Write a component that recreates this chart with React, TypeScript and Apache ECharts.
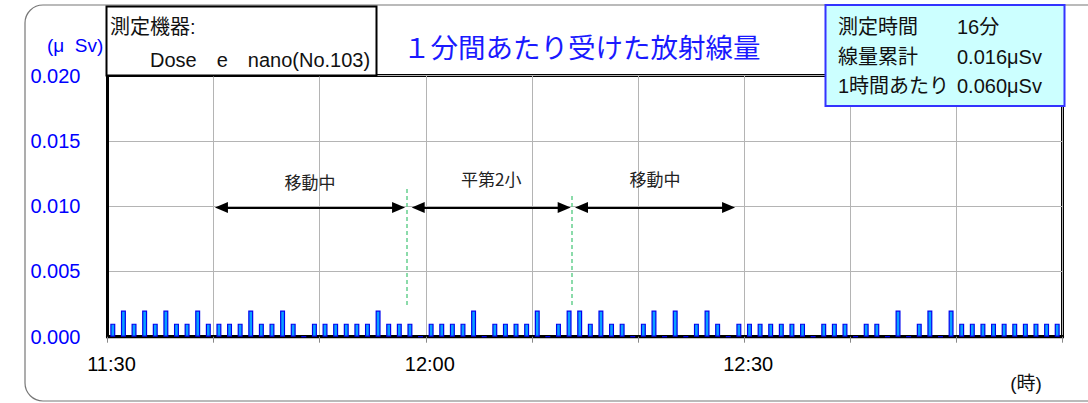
import React, { useEffect, useRef } from "react";
import * as echarts from "echarts";

// Dose per minute (µSv), 11:30 → 13:00, one value per minute
const minuteValues: number[] = [
  0.001, 0.002, 0.001, 0.002, 0.001, 0.002, 0.001, 0.001, 0.002, 0.001,
  0.001, 0.001, 0.001, 0.002, 0.001, 0.001, 0.002, 0.001, 0, 0.001,
  0.001, 0.001, 0.001, 0.001, 0.001, 0.002, 0.001, 0.001, 0.001, 0,
  0.001, 0.001, 0.001, 0.001, 0.002, 0, 0.001, 0.001, 0.001, 0.001,
  0.002, 0, 0.001, 0.002, 0.002, 0.001, 0.002, 0.001, 0.001, 0,
  0.001, 0.002, 0, 0.002, 0, 0.001, 0.002, 0.001, 0, 0.001,
  0.001, 0.001, 0.001, 0.001, 0.001, 0.001, 0, 0.001, 0.001, 0.001,
  0, 0.001, 0.001, 0, 0.002, 0, 0.001, 0.002, 0, 0.002,
  0.001, 0.001, 0.001, 0.001, 0.001, 0.001, 0.001, 0.001, 0.001, 0.001,
];

const tickMinutes = [0, 30, 60];
const tickLabels = ["11:30", "12:00", "12:30"];

// annotation arrows (minutes from 11:30, dose level)
const segLabels = ["移動中", "平第2小", "移動中"];
const segFrom = [10.74, 29.28, 44.67];
const segTo = [27.43, 43.04, 58.53];
const segLevel = 0.0099;
const segLabelDist = [17, 20, 20];

// dashed boundary markers
const boundX = [28.2, 43.75];
const boundTop = [0.01142, 0.01096];
const boundBottom = 0.00242;

const deviceLines = ["測定機器:", "Dose　e　nano(No.103)"];
const summaryLabels = ["測定時間", "線量累計", "1時間あたり"];
const summaryValues = ["16分", "0.016μSv", "0.060μSv"];
const chartTitle = "１分間あたり受けた放射線量";

const FONT = "'Liberation Sans', Arial, 'Noto Sans CJK JP', sans-serif";
const JP = "'Noto Sans CJK JP', sans-serif";

export default function App() {
  const ref = useRef<HTMLDivElement>(null);
  useEffect(() => {
    document.body.style.margin = "0";
    if (!ref.current) return;
    const chart = echarts.init(ref.current, undefined, { renderer: "svg" });

    const barData = minuteValues.map((v, i) => [i + 0.5, v]);

    const arrowData = segLabels.map((lab, i) => [
      {
        coord: [segFrom[i], segLevel],
        name: lab,
        label: { distance: segLabelDist[i] },
      },
      { coord: [segTo[i], segLevel] },
    ]);

    const boundData = boundX.map((x, i) => [
      { coord: [x, boundBottom] },
      { coord: [x, boundTop[i]] },
    ]);

    const summaryGraphics: any[] = [];
    summaryLabels.forEach((s, i) => {
      const y = 27 + i * 29.5;
      summaryGraphics.push({
        type: "text",
        x: 838,
        y,
        z: 101,
        style: { text: s, font: `20px ${FONT}`, fill: "#111", textVerticalAlign: "middle" },
      });
      summaryGraphics.push({
        type: "text",
        x: 957,
        y,
        z: 101,
        style: { text: summaryValues[i], font: `20px ${FONT}`, fill: "#111", textVerticalAlign: "middle" },
      });
    });

    chart.setOption({
      animation: false,
      textStyle: { fontFamily: FONT },
      title: {
        text: chartTitle,
        left: 398,
        top: 27,
        textStyle: { fontFamily: JP, fontSize: 27.5, fontWeight: "normal", color: "#1a1aff" },
      },
      grid: {
        left: 107.5,
        right: 25.5,
        top: 75.5,
        bottom: 66.3,
        show: true,
        borderColor: "#000",
        borderWidth: 3,
        backgroundColor: "transparent",
      },
      xAxis: {
        type: "value",
        min: 0,
        max: 90,
        interval: 10,
        axisLine: { show: true, lineStyle: { color: "#000", width: 3 } },
        axisTick: { show: true, length: 6, lineStyle: { color: "#888", width: 1 } },
        axisLabel: {
          margin: 17,
          fontSize: 20,
          color: "#000",
          padding: [0, 0, 0, 8],
          formatter: (v: number) => {
            const k = tickMinutes.indexOf(Math.round(v));
            return k >= 0 ? tickLabels[k] : "";
          },
        },
        splitLine: { show: true, lineStyle: { color: "#b4b4b4", width: 1 } },
      },
      yAxis: {
        type: "value",
        min: 0,
        max: 0.02,
        interval: 0.005,
        axisLine: { show: true, lineStyle: { color: "#000", width: 3 } },
        axisTick: { show: false },
        axisLabel: {
          margin: 27,
          fontSize: 20,
          color: "#0000ff",
          formatter: (v: number) => v.toFixed(3),
        },
        splitLine: { show: true, lineStyle: { color: "#b4b4b4", width: 1 } },
      },
      series: [
        {
          type: "bar",
          data: barData,
          barWidth: 5,
          itemStyle: { color: "#0aa0ff", borderColor: "#0000f0", borderWidth: 1.2 },
          markLine: {
            silent: true,
            animation: false,
            symbol: ["triangle", "triangle"],
            symbolSize: [11, 13],
            lineStyle: { color: "#000", width: 2, type: "solid" },
            label: {
              show: true,
              position: "middle",
              formatter: "{b}",
              color: "#222",
              fontSize: 17,
              fontFamily: JP,
            },
            emphasis: { disabled: true },
            data: arrowData,
          },
        },
        {
          type: "line",
          data: [],
          markLine: {
            silent: true,
            animation: false,
            symbol: ["none", "none"],
            lineStyle: { color: "#66d08e", width: 1.5, type: [4, 3] },
            label: { show: false },
            emphasis: { disabled: true },
            data: boundData,
          },
        },
      ],
      graphic: [
        {
          type: "rect",
          z: 0,
          shape: { x: 25, y: 5, width: 1090, height: 396, r: 18 },
          style: { fill: "none", stroke: "#777", lineWidth: 1.2 },
        },
        {
          type: "rect",
          z: 100,
          shape: { x: 106.5, y: 6.5, width: 270, height: 69 },
          style: { fill: "#fff", stroke: "#000", lineWidth: 2 },
        },
        {
          type: "text",
          x: 110,
          y: 27,
          z: 101,
          style: { text: deviceLines[0], font: `20px ${FONT}`, fill: "#111", textVerticalAlign: "middle" },
        },
        {
          type: "text",
          x: 150,
          y: 60,
          z: 101,
          style: { text: deviceLines[1], font: `20px ${FONT}`, fill: "#111", textVerticalAlign: "middle" },
        },
        {
          type: "rect",
          z: 100,
          shape: { x: 825.5, y: 5, width: 239, height: 101 },
          style: { fill: "#ccffff", stroke: "#3333ff", lineWidth: 2 },
        },
        ...summaryGraphics,
        {
          type: "text",
          x: 47,
          y: 45,
          z: 101,
          style: { text: "(μ  Sv)", font: `19px ${FONT}`, fill: "#0000ff", textVerticalAlign: "middle" },
        },
        {
          type: "text",
          x: 1026,
          y: 383,
          z: 101,
          style: {
            text: "(時)",
            font: `19px ${FONT}`,
            fill: "#111",
            textAlign: "center",
            textVerticalAlign: "middle",
          },
        },
      ],
    });
    return () => chart.dispose();
  }, []);
  return <div ref={ref} style={{ width: 1088, height: 403 }} />;
}
